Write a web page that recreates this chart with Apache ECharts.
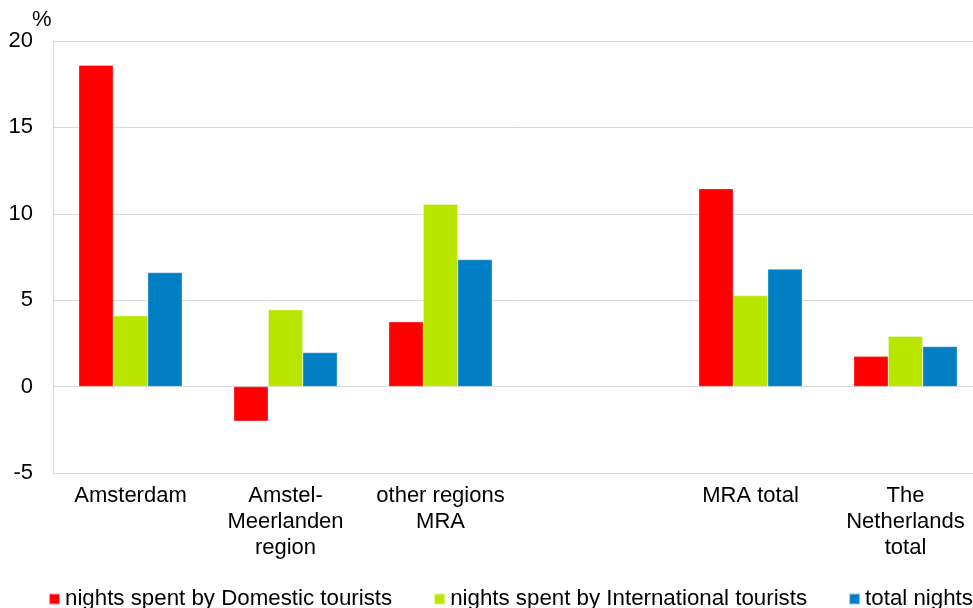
<!DOCTYPE html>
<html>
<head>
<meta charset="utf-8">
<title>nights spent</title>
<script src="https://cdn.jsdelivr.net/npm/echarts@6/dist/echarts.min.js"></script>
<style>
    html, body { margin:0; padding:0; background:#fff; }
    #chart { width:973px; height:608px; }
</style>
</head>
<body>
<div id="chart"></div>
<script>
    // regions (the empty one is the gap before the totals)
    var categories = ['Amsterdam', 'Amstel-\nMeerlanden\nregion', 'other regions\nMRA', '', 'MRA total', 'The\nNetherlands\ntotal'];

    var domestic = [18.6, -2.0, 3.75, '-', 11.45, 1.75];
    var international = [4.1, 4.45, 10.55, '-', 5.27, 2.92];
    var totalNights = [6.6, 1.97, 7.35, '-', 6.8, 2.32];

    var seriesNames = ['nights spent by Domestic tourists', 'nights spent by International tourists', 'total nights'];
    var colors = ['#ff0000', '#b8e600', '#007fc4'];

    var font = '"Liberation Sans", Arial, Helvetica, sans-serif';

    var chart = echarts.init(document.getElementById('chart'));

    var makeSeries = function(name, data){
        return {
            name:name,
            type:'bar',
            barWidth:34.5,
            barGap:'0%',
            data:data,
            itemStyle:{
                borderColor:'rgba(255,255,255,0.6)',
                borderWidth:0.5
            }
        };
    };

    var option = {
        animation:false,
        color:colors,
        textStyle:{ fontFamily:font },
        // plot runs a little past the right edge of the picture
        grid:{
            left:53,
            width:930,
            top:41,
            bottom:135,
            outerBoundsMode:'none',
            containLabel:false
        },
        graphic:[{
            type:'text',
            left:32,
            top:9,
            style:{
                text:'%',
                font:'22px ' + font,
                fill:'#000'
            }
        }],
        legend:{
            left:43,
            top:583,
            width:1200,
            icon:'rect',
            itemWidth:11,
            itemHeight:11,
            itemGap:41,
            textStyle:{
                fontSize:22.3,
                color:'#000',
                fontFamily:font
            },
            data:seriesNames
        },
        xAxis:{
            type:'category',
            data:categories,
            axisLine:{ show:false },
            axisTick:{ show:false },
            axisLabel:{
                interval:0,
                margin:10,
                fontSize:22,
                lineHeight:26,
                color:'#000',
                fontFamily:font
            }
        },
        yAxis:{
            type:'value',
            min:-5,
            max:20,
            interval:5,
            axisLine:{ show:true, lineStyle:{ color:'#d9d9d9', width:1 } },
            axisTick:{ show:false },
            axisLabel:{
                margin:20,
                fontSize:22,
                color:'#000',
                fontFamily:font
            },
            splitLine:{ lineStyle:{ color:'#d9d9d9', width:1 } }
        },
        series:[
            makeSeries(seriesNames[0], domestic),
            makeSeries(seriesNames[1], international),
            makeSeries(seriesNames[2], totalNights)
        ]
    };

    chart.setOption(option);
</script>
</body>
</html>
